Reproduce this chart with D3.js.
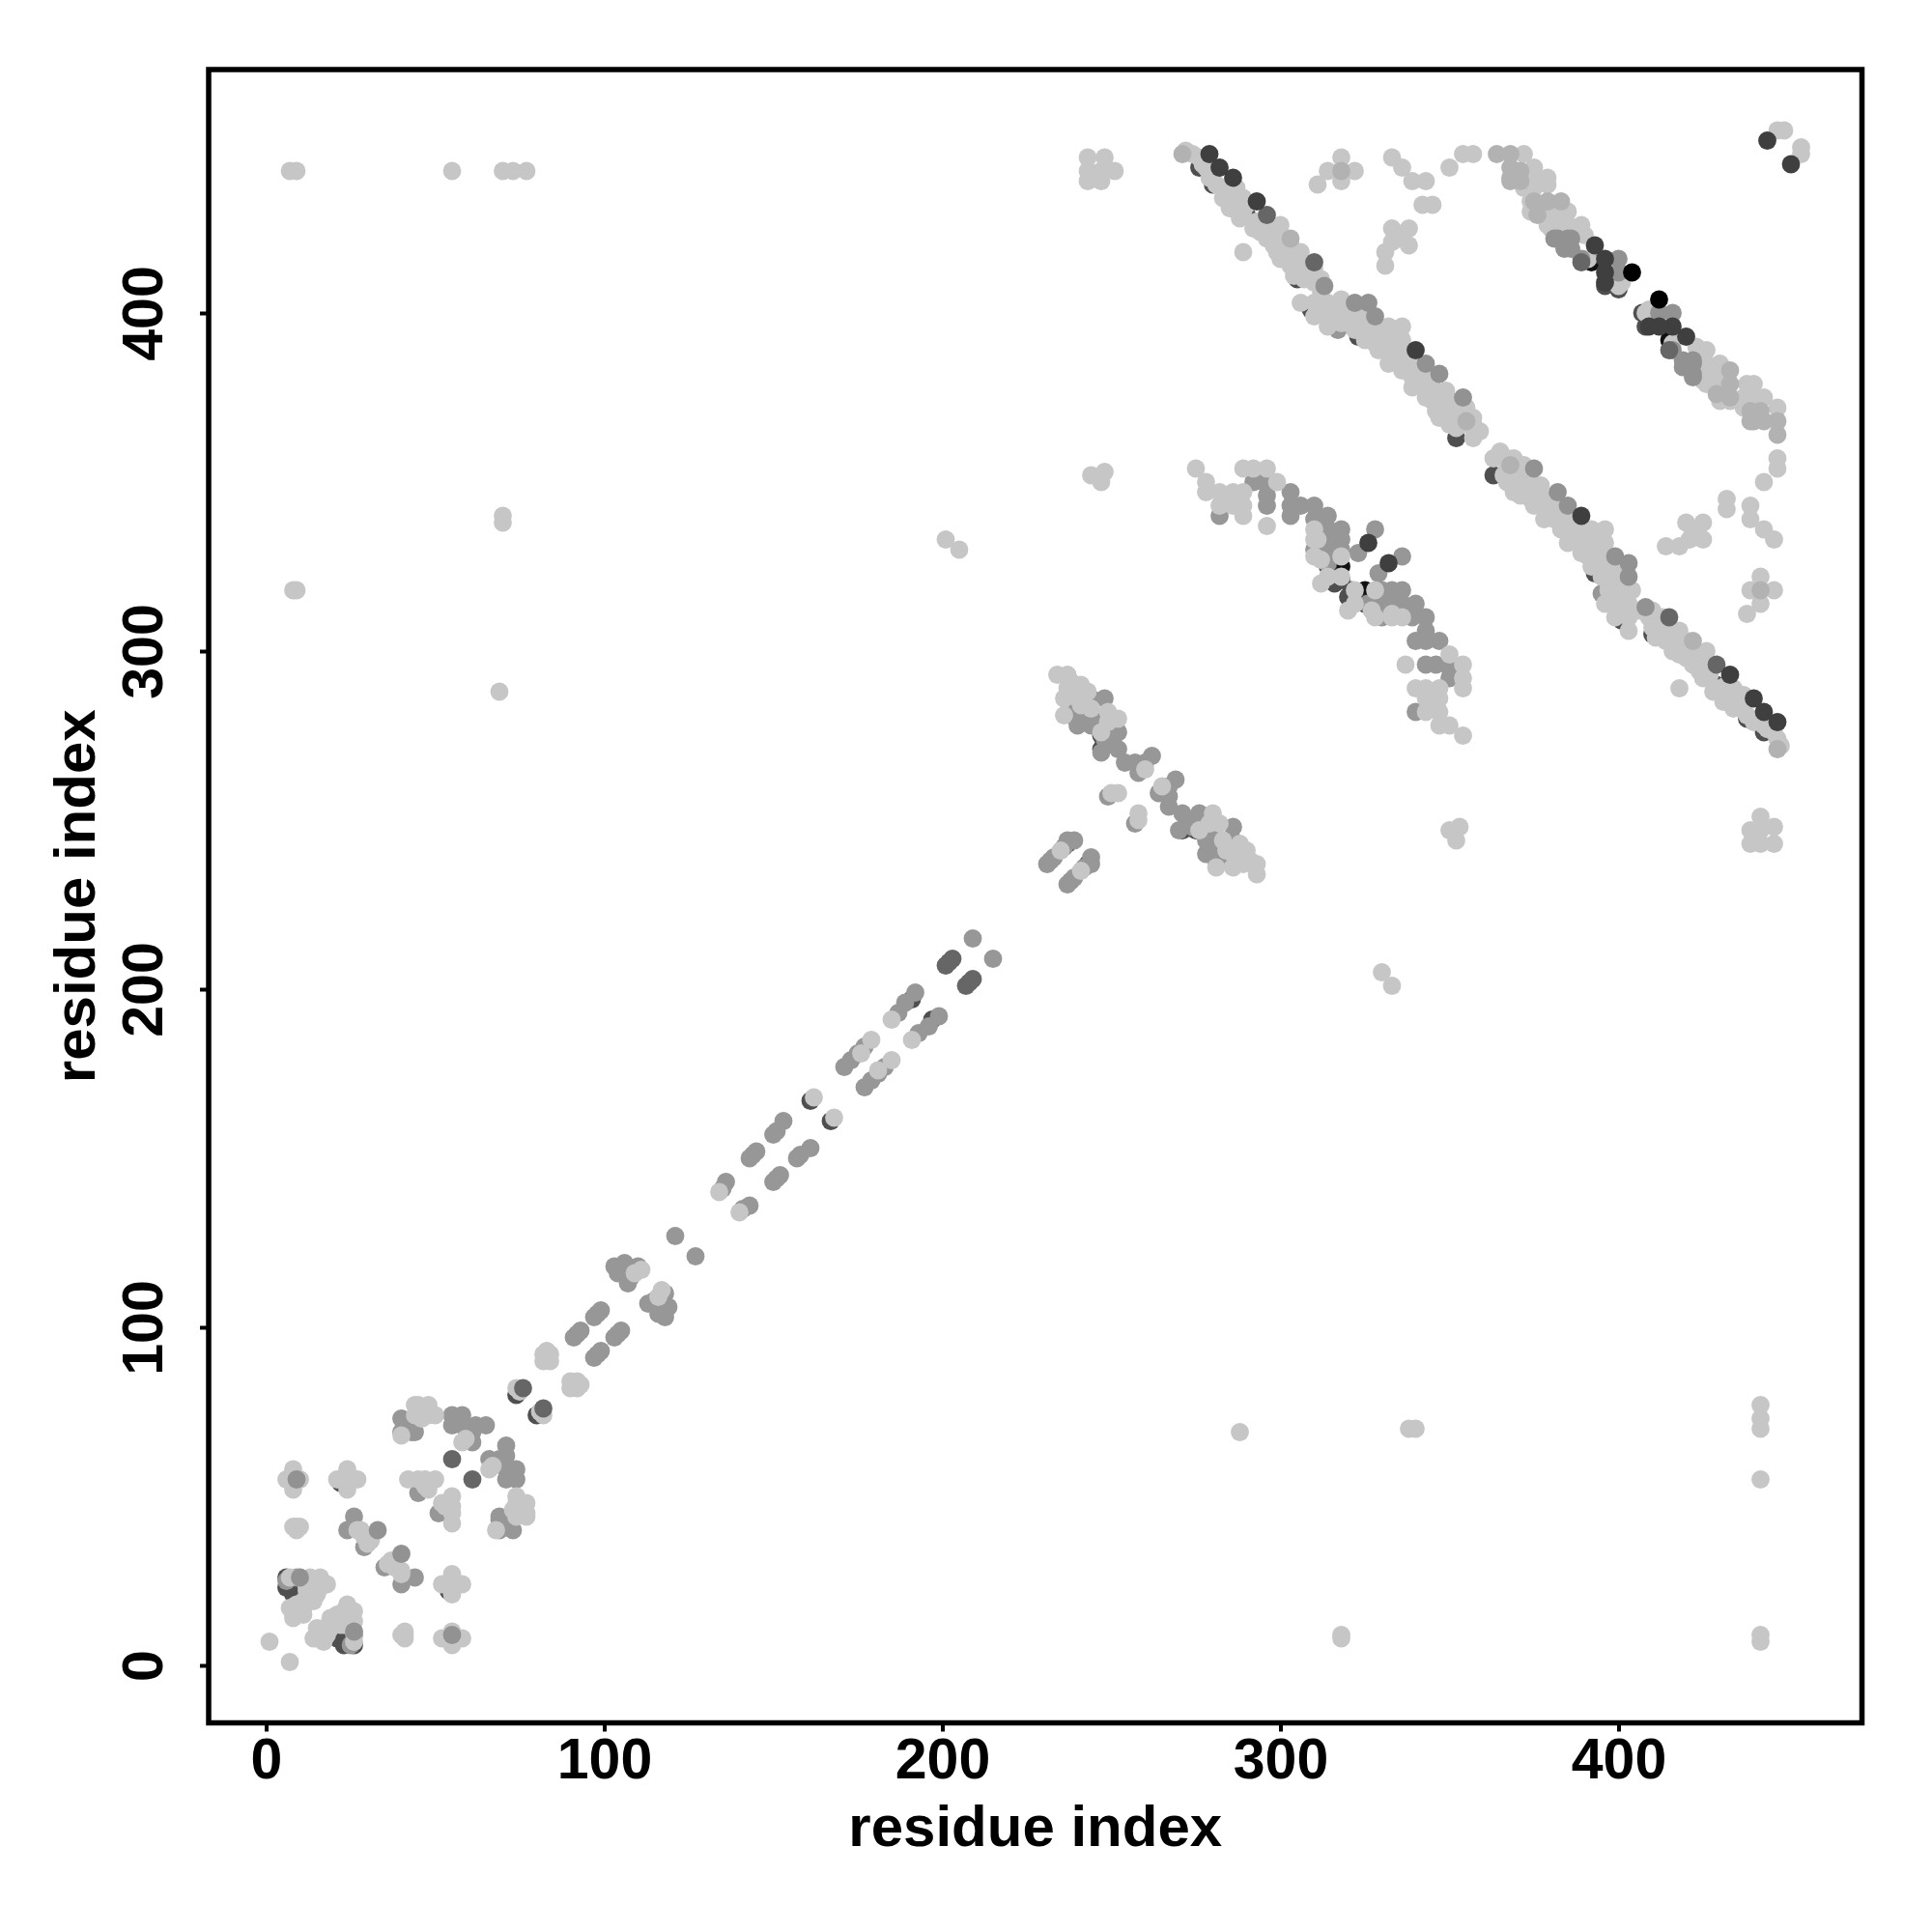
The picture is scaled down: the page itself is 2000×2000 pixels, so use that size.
<!DOCTYPE html>
<html><head><meta charset="utf-8">
<script src="https://cdnjs.cloudflare.com/ajax/libs/d3/7.8.5/d3.min.js"></script>
<style>html,body{margin:0;padding:0;background:#fff}</style></head>
<body><svg id="c" width="2000" height="2000"></svg>
<script>
// residue contact pairs [i, j] with j > i; the map is symmetric, so each is drawn at (i,j) and (j,i)
const contactsBlackUnder = [[318,325],[398,411],[392,415]];
const contactsDarkUnder = [[46,52],[22,54],[8,21],[10,20],[14,21],[6,23],[6,26],[7,24],[161,167],[237,243],[191,197],[74,80],[247,271],[247,275],[276,443],[280,438],[290,429],[286,431],[297,422],[301,417],[305,410],[309,401],[323,398],[323,393],[334,391],[352,363],[381,425],[400,407],[316,320],[318,321],[314,325],[396,408]];
const contactsMidUnder = [[9,26],[6,25],[10,17],[24,40],[26,44],[29,35],[40,69],[41,69],[43,69],[44,69],[40,73],[41,72],[42,70],[43,71],[45,51],[55,71],[58,71],[61,69],[61,66],[62,71],[65,71],[55,74],[58,74],[91,97],[92,98],[93,99],[97,103],[98,104],[99,105],[103,118],[104,116],[106,119],[106,116],[107,113],[108,115],[110,118],[135,141],[136,143],[143,150],[144,151],[145,152],[150,157],[151,158],[153,161],[171,177],[173,179],[175,181],[177,183],[187,193],[189,196],[192,199],[231,237],[232,238],[233,239],[236,242],[237,244],[239,244],[249,257],[238,281],[240,283],[243,280],[246,279],[240,278],[244,278],[241,281],[244,286],[248,286],[248,274],[250,273],[250,278],[252,276],[252,271],[247,270],[254,267],[257,267],[260,267],[262,269],[258,264],[282,340],[292,350],[295,350],[296,346],[296,343],[303,347],[303,343],[303,340],[306,343],[310,343],[310,339],[314,340],[314,336],[318,336],[318,333],[318,330],[314,333],[314,330],[314,328],[314,326],[310,330],[323,329],[328,336],[317,395],[297,426]];
const contactsPale = [[1,7],[6,55],[8,52],[8,58],[8,56],[10,55],[21,55],[24,52],[24,58],[27,55],[24,55],[8,41],[9,41],[10,41],[9,40],[27,40],[28,40],[29,38],[30,36],[31,37],[7,26],[10,26],[13,26],[16,26],[15,21],[12,23],[14,24],[16,23],[12,22],[13,22],[15,24],[13,24],[11,19],[9,16],[11,17],[8,15],[7,17],[9,18],[10,16],[14,19],[8,14],[11,15],[18,24],[44,77],[45,77],[48,77],[50,74],[48,74],[44,74],[46,73],[45,75],[40,68],[58,66],[59,67],[42,55],[45,55],[47,55],[50,55],[47,53],[48,52],[74,82],[75,81],[82,90],[84,90],[82,92],[84,92],[83,93],[111,117],[109,116],[134,140],[162,168],[176,181],[179,185],[185,191],[235,241],[250,258],[252,258],[234,293],[237,293],[238,291],[237,289],[239,288],[243,288],[241,290],[236,286],[240,286],[236,281],[241,284],[244,283],[249,282],[249,279],[252,280],[247,276],[260,265],[7,442],[9,442],[55,442],[70,442],[73,442],[77,442],[8,318],[9,318],[70,340],[70,338],[69,288],[201,333],[205,330],[243,446],[248,446],[243,442],[247,442],[251,442],[243,439],[247,439],[244,352],[248,353],[247,350],[275,354],[278,350],[278,347],[282,347],[284,345],[288,345],[286,347],[289,347],[282,343],[286,343],[289,343],[289,340],[289,354],[292,354],[296,354],[299,350],[296,337],[310,336],[311,333],[310,328],[312,327],[318,328],[314,322],[312,320],[318,322],[310,333],[272,448],[274,447],[276,446],[277,444],[278,443],[280,441],[279,440],[281,438],[283,437],[283,434],[285,434],[287,437],[285,431],[288,428],[290,432],[293,427],[294,424],[296,425],[298,420],[300,416],[302,418],[304,411],[307,414],[308,411],[289,434],[289,430],[292,425],[296,422],[299,423],[299,418],[303,414],[303,418],[303,420],[306,415],[306,413],[307,410],[309,411],[310,413],[310,409],[312,406],[312,410],[310,399],[306,403],[310,403],[314,396],[314,400],[314,403],[316,398],[318,397],[318,404],[318,400],[320,400],[320,397],[322,398],[323,402],[322,395],[325,392],[325,400],[326,396],[327,393],[328,391],[329,389],[329,396],[330,393],[331,389],[332,396],[332,385],[332,392],[334,388],[334,394],[335,386],[336,392],[336,383],[337,388],[338,384],[339,378],[339,381],[340,385],[341,380],[342,384],[343,382],[343,378],[343,375],[345,378],[345,374],[346,371],[347,376],[348,372],[347,369],[349,377],[350,374],[350,370],[351,372],[354,370],[357,367],[355,372],[352,366],[350,367],[354,367],[357,363],[359,365],[357,369],[289,418],[300,426],[306,418],[336,396],[318,446],[314,442],[322,442],[318,439],[311,438],[333,446],[336,443],[339,439],[343,439],[342,432],[345,432],[350,443],[354,447],[357,447],[333,425],[338,425],[333,421],[338,420],[331,418],[331,414],[335,422],[372,447],[375,443],[379,440],[375,440],[373,437],[375,437],[372,437],[374,430],[374,433],[378,429],[379,438],[379,430],[379,426],[382,425],[385,430],[382,430],[389,426],[385,426],[380,425],[390,423],[391,416],[400,408],[401,409],[447,454],[449,454]];
const contactsPaleMid = [[364,447],[368,447],[368,443],[371,442],[368,440],[371,439],[368,439],[375,433],[379,433],[383,433],[376,429],[271,447],[318,442],[303,422],[355,368]];
const contactsMidOver = [[9,55],[33,40],[322,403],[328,399],[343,385],[347,382],[354,375],[313,408],[381,422],[384,419],[385,422],[386,419],[386,422],[382,422],[389,416],[400,416],[400,412],[26,10],[326,403]];
const contactsDark = [[76,82],[55,61],[201,207],[202,208],[203,209],[389,415],[310,415],[296,429]];
const contactsDarker = [[279,447],[282,443],[286,440],[293,433],[340,389],[326,332],[393,420],[396,416],[396,412],[396,409],[444,451]];
const contactsBlack = [[404,412]];
const contactsTopMid = [[209,215],[121,127]];
const tickValues = [0,100,200,300,400];
const axisLabel = "residue index";

const layers = [
  [contactsBlackUnder,"#111111"],[contactsDarkUnder,"#4f4f4f"],[contactsMidUnder,"#979797"],[contactsPale,"#c6c6c6"],
  [contactsPaleMid,"#b2b2b2"],[contactsMidOver,"#929292"],[contactsTopMid,"#979797"],
  [contactsDark,"#666666"],[contactsDarker,"#3f3f3f"],[contactsBlack,"#000000"]
];

const svg = d3.select("#c");
const L=216,R=1927.5,T=72,B=1783.5;
const x = d3.scaleLinear().domain([-17,472]).range([L,R]);
const y = d3.scaleLinear().domain([-17,472]).range([B,T]);
const FONT = '"Liberation Sans", Arial, sans-serif';

layers.forEach(([pairs,fill])=>{
  const pts = pairs.flatMap(([i,j])=>[[i,j],[j,i]]);
  svg.append("g").attr("fill",fill).selectAll("circle").data(pts).join("circle")
    .attr("cx",d=>x(d[0])).attr("cy",d=>y(d[1])).attr("r",9.4);
});

const xAxis = svg.append("g").attr("transform",`translate(0,${B})`)
  .call(d3.axisBottom(x).tickValues(tickValues).tickSize(9).tickFormat(d3.format("d")));
const yAxis = svg.append("g").attr("transform",`translate(${L},0)`)
  .call(d3.axisLeft(y).tickValues(tickValues).tickSize(9).tickFormat(d3.format("d")));
[xAxis,yAxis].forEach(a=>{
  a.select(".domain").remove();
  a.selectAll("line").attr("stroke","#000").attr("stroke-width",4);
  a.selectAll("text").attr("font-family",FONT).attr("font-weight","bold").attr("font-size",59).attr("fill","#000");
});
xAxis.selectAll("text").attr("y",16).attr("dy","0.71em");
yAxis.selectAll("text").attr("x",0).attr("dy",0).attr("text-anchor","middle")
  .attr("transform","translate(-48,0) rotate(-90)");

svg.append("rect").attr("x",L).attr("y",T).attr("width",R-L).attr("height",B-T)
  .attr("fill","none").attr("stroke","#000").attr("stroke-width",5.5);

svg.append("text").attr("x",(L+R)/2).attr("y",1911).attr("text-anchor","middle")
  .attr("font-family",FONT).attr("font-weight","bold").attr("font-size",60).text(axisLabel);
svg.append("text").attr("transform",`translate(98,${(T+B)/2}) rotate(-90)`).attr("text-anchor","middle")
  .attr("font-family",FONT).attr("font-weight","bold").attr("font-size",60).text(axisLabel);
</script></body></html>
